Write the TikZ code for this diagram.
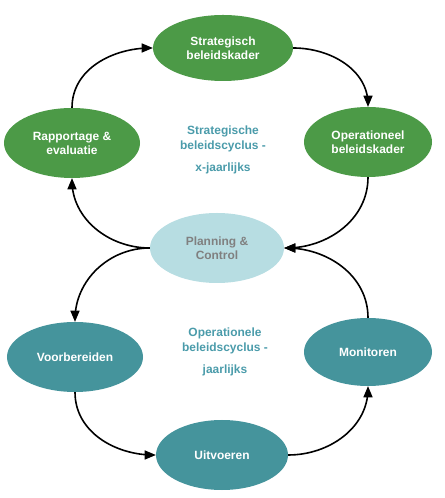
\documentclass[tikz,border=0pt]{standalone}
\usepackage{fontspec}
\setmainfont{Liberation Sans}
\usepackage{tikz}
\usetikzlibrary{arrows, shapes.geometric, positioning}
\definecolor{grn}{RGB}{76,154,71}
\definecolor{teal}{RGB}{69,148,156}
\definecolor{lblue}{RGB}{183,221,226}
\definecolor{cyctext}{RGB}{74,155,170}
\begin{document}
\begin{tikzpicture}[>=triangle 45, x=1bp, y=1bp,
	fase/.style={ellipse, inner sep=0pt, text=white, font=\bfseries\fontsize{12}{14}\selectfont, align=center},
	strat/.style={fase, fill=grn},
	oper/.style={fase, fill=teal},
	pc/.style={fase, fill=lblue, text=gray},
	cyclus/.style={text=cyctext, font=\bfseries\fontsize{12}{15}\selectfont, align=center},
	pijl/.style={->, line width=1.6pt}]
	\useasboundingbox (0,0) rectangle (445,498);
	% strategische cyclus
	\node[strat, minimum width=140bp, minimum height=66bp] (kader) at (223,450) {Strategisch\\beleidskader};
	\node[strat, minimum width=128bp, minimum height=70bp] (opkader) at (368,356) {Operationeel\\beleidskader};
	\node[strat, minimum width=136bp, minimum height=70bp] (rapp) at (72,355) {Rapportage \&\\evaluatie};
	\node[cyclus] (scyc) at (223,348) {Strategische\\beleidscyclus -\\[7bp]x-jaarlijks};
	
	% planning & control
	\node[pc, minimum width=134bp, minimum height=70bp] (plan) at (217,250) {Planning \&\\Control};
	
	% operationele cyclus
	\node[oper, minimum width=136bp, minimum height=70bp] (voorb) at (75,141) {Voorbereiden};
	\node[oper, minimum width=128bp, minimum height=68bp] (monit) at (368,146) {Monitoren};
	\node[oper, minimum width=132bp, minimum height=70bp] (uitv) at (222,43) {Uitvoeren};
	\node[cyclus] (ocyc) at (225,146) {Operationele\\beleidscyclus -\\[7bp]jaarlijks};
	
	\draw[pijl] (rapp.north) to[out=90, in=180] (kader.west);
	\draw[pijl] (kader.east) to[out=0, in=90] (opkader.north);
	\draw[pijl] (opkader.south) to[out=-90, in=0] (plan.east);
	\draw[pijl] (plan.west) to[out=180, in=-90] (rapp.south);
	
	\draw[pijl] (plan.west) to[out=180, in=90] (voorb.north);
	\draw[pijl] (voorb.south) to[out=-90, in=180] (uitv.west);
	\draw[pijl] (uitv.east) to[out=0, in=-90] (monit.south);
	\draw[pijl] (monit.north) to[out=90, in=0] (plan.east);
\end{tikzpicture}
\end{document}
